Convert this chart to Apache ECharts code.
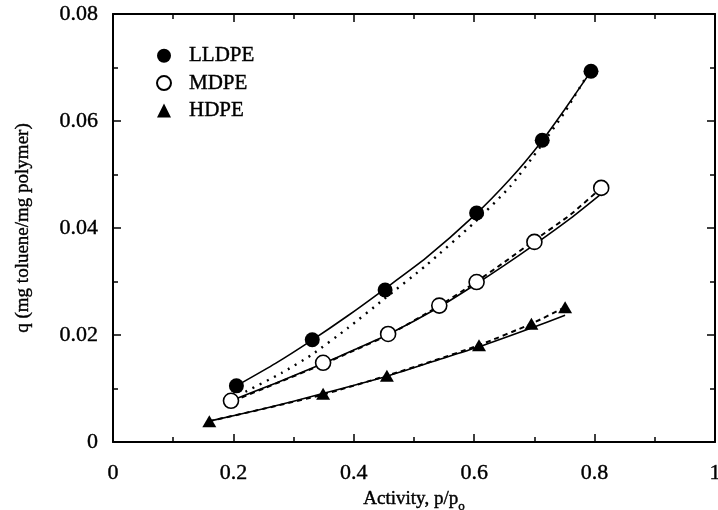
<!DOCTYPE html>
<html>
<head>
<meta charset="utf-8">
<script src="https://cdn.jsdelivr.net/npm/echarts@6/dist/echarts.min.js"></script>
<style>
  html, body { margin: 0; padding: 0; background: #fff; }
  #chart { width: 718px; height: 510px; }
</style>
</head>
<body>
<div id="chart"></div>
<script>
// measured points [activity, q]
const lldpePts = [[0.205, 0.0105], [0.331, 0.0191], [0.452, 0.0284], [0.604, 0.0428], [0.713, 0.0564], [0.794, 0.0693]]
const mdpePts = [[0.196, 0.0077], [0.349, 0.0148], [0.457, 0.0202], [0.542, 0.0255], [0.604, 0.0299], [0.700, 0.0374], [0.811, 0.0475]]
const hdpePts = [[0.160, 0.0039], [0.349, 0.0090], [0.455, 0.0124], [0.608, 0.0181], [0.695, 0.0221], [0.751, 0.0252]]

// fitted curves
const lldpeSolid = [[0.205, 0.0105], [0.27, 0.0147], [0.33, 0.0190], [0.39, 0.0236], [0.45, 0.0285], [0.52, 0.0344], [0.60, 0.0423], [0.66, 0.0492], [0.71, 0.0559], [0.75, 0.0621], [0.794, 0.0693]]
const lldpeDotted = [[0.22, 0.0094], [0.28, 0.0129], [0.33, 0.0163], [0.39, 0.0213], [0.45, 0.0267], [0.52, 0.0330], [0.60, 0.0410], [0.66, 0.0478], [0.71, 0.0552], [0.75, 0.0616], [0.79, 0.0690]]
const mdpeSolid = [[0.196, 0.0077], [0.27, 0.0110], [0.35, 0.0147], [0.40, 0.0172], [0.457, 0.0201], [0.54, 0.0251], [0.60, 0.0293], [0.65, 0.0330], [0.70, 0.0369], [0.76, 0.0418], [0.809, 0.0462]]
const mdpeDashed = [[0.20, 0.0077], [0.27, 0.0109], [0.35, 0.0146], [0.40, 0.0171], [0.457, 0.0200], [0.54, 0.0253], [0.60, 0.0297], [0.65, 0.0336], [0.70, 0.0377], [0.76, 0.0425], [0.811, 0.0475]]
const hdpeSolid = [[0.16, 0.0039], [0.25, 0.0062], [0.35, 0.0091], [0.455, 0.0123], [0.53, 0.0150], [0.608, 0.0178], [0.695, 0.0213], [0.751, 0.0237]]
const hdpeDashed = [[0.16, 0.0039], [0.25, 0.0062], [0.35, 0.0089], [0.455, 0.0124], [0.53, 0.0151], [0.608, 0.0181], [0.695, 0.0221], [0.751, 0.0252]]

const seriesNames = ['LLDPE', 'MDPE', 'HDPE']
const xTicks = [0, 0.2, 0.4, 0.6, 0.8, 1]
const yTicks = [0, 0.02, 0.04, 0.06, 0.08]

const font = 'Liberation Serif'
const ink = '#000'
const heavy = { textBorderColor: ink, textBorderWidth: 0.4 }

const chart = echarts.init(document.getElementById('chart'))

const axisBase = {
  axisLine: { show: true, onZero: false, lineStyle: { color: ink, width: 2 } },
  axisTick: { inside: true, length: 8, lineStyle: { color: ink, width: 1.5 } },
  minorTick: { show: true, splitNumber: 2, length: 5, lineStyle: { color: ink, width: 1.5 } },
  splitLine: { show: false }
}

const fitLine = (data, type, width) => ({
  type: 'line',
  data,
  smooth: 0.2,
  showSymbol: false,
  silent: true,
  lineStyle: { color: ink, width, type },
  z: 1
})

chart.setOption({
  animation: false,
  backgroundColor: '#fff',
  grid: { left: 113, right: 3, top: 14, bottom: 68, outerBoundsMode: 'none' },
  legend: {
    data: seriesNames,
    orient: 'vertical',
    left: 151,
    top: 40,
    itemWidth: 14,
    itemHeight: 14,
    itemGap: 6,
    textStyle: { fontFamily: font, fontSize: 21, color: ink, padding: [0, 0, 0, 13], lineHeight: 21, ...heavy }
  },
  xAxis: [
    {
      ...axisBase,
      type: 'value',
      min: 0,
      max: 1,
      interval: 0.2,
      position: 'bottom',
      axisLabel: {
        fontFamily: font, fontSize: 22, color: ink, margin: 20, ...heavy,
        formatter: v => xTicks.includes(+v.toFixed(2)) ? String(+v.toFixed(2)) : ''
      },
      name: 'Activity, p/p{s|o}',
      nameLocation: 'middle',
      nameGap: 42,
      nameTextStyle: {
        fontFamily: font, fontSize: 19, color: ink, ...heavy,
        rich: { s: { fontFamily: font, fontSize: 13, color: ink, padding: [16, 0, 0, 0], ...heavy } }
      }
    },
    {
      ...axisBase,
      type: 'value',
      min: 0,
      max: 1,
      interval: 0.2,
      position: 'top',
      axisLabel: { show: false }
    }
  ],
  yAxis: [
    {
      ...axisBase,
      type: 'value',
      min: 0,
      max: 0.08,
      interval: 0.02,
      position: 'left',
      axisLabel: {
        fontFamily: font, fontSize: 22, color: ink, margin: 15, ...heavy,
        formatter: v => yTicks.includes(+v.toFixed(2)) ? String(+v.toFixed(2)) : ''
      },
      name: 'q (mg toluene/mg polymer)',
      nameLocation: 'middle',
      nameGap: 80,
      nameTextStyle: { fontFamily: font, fontSize: 19, color: ink, ...heavy }
    },
    {
      ...axisBase,
      type: 'value',
      min: 0,
      max: 0.08,
      interval: 0.02,
      position: 'right',
      axisLabel: { show: false }
    }
  ],
  series: [
    fitLine(lldpeSolid, 'solid', 1.6),
    fitLine(lldpeDotted, [2, 6], 2.4),
    fitLine(mdpeSolid, 'solid', 1.6),
    fitLine(mdpeDashed, [5, 4], 2),
    fitLine(hdpeSolid, 'solid', 1.6),
    fitLine(hdpeDashed, [5, 4], 2),
    {
      name: 'LLDPE', type: 'scatter', data: lldpePts, symbol: 'circle', symbolSize: 15,
      itemStyle: { color: ink, opacity: 1 }, z: 3
    },
    {
      name: 'MDPE', type: 'scatter', data: mdpePts, symbol: 'circle', symbolSize: 15,
      itemStyle: { color: '#fff', borderColor: ink, borderWidth: 1.6, opacity: 1 }, z: 3
    },
    {
      name: 'HDPE', type: 'scatter', data: hdpePts, symbol: 'triangle', symbolSize: [14, 12],
      itemStyle: { color: ink, opacity: 1 }, z: 3
    }
  ]
})
</script>
</body>
</html>
